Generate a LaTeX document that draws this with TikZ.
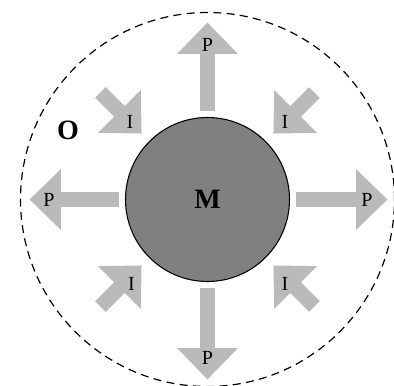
\documentclass[tikz,border=0pt]{standalone}
\usepackage{fontspec}
\setmainfont{Liberation Serif}
\usetikzlibrary{arrows.meta}

\begin{document}
\begin{tikzpicture}[x=0.75pt,y=0.75pt,
  flux/.style={draw=black!27, line width=11.25pt, -{Triangle[width=44pt,length=23.5pt]}},
  lbl/.style={font=\fontsize{15}{15}\selectfont, inner sep=0pt},
  big/.style={font=\fontsize{21}{21}\selectfont\bfseries, inner sep=0pt}]
\useasboundingbox (-207.5,-186.5) rectangle (186.5,199.5);
% outer dashed boundary
\draw[dash pattern=on 6pt off 4pt, line width=0.9pt] (0,0) circle (187);
\node[circle, draw=black, line width=0.8pt, fill=black!50, minimum size=123pt, inner sep=0pt, font=\fontsize{21}{21}\selectfont\bfseries] (M) at (0,0) {M};
\node[big] (O) at (-139.5,69.5) {O};
% free ends of the arrows
\coordinate (pN) at (0,177);
\coordinate (pE) at (180,0);
\coordinate (pW) at (-178,0);
\coordinate (pS) at (0,-180);
\coordinate (iNW) at (-107,107);
\coordinate (iNE) at (107,107);
\coordinate (iSW) at (-107,-107);
\coordinate (iSE) at (107,-107);
% outgoing
\draw[flux, shorten <=4.5pt] (M) -- (pN);
\draw[flux, shorten <=4.5pt] (M) -- (pE);
\draw[flux, shorten <=4.5pt] (M) -- (pW);
\draw[flux, shorten <=4.5pt] (M) -- (pS);
% incoming
\draw[flux, shorten >=8pt] (iNW) -- (M);
\draw[flux, shorten >=8pt] (iNE) -- (M);
\draw[flux, shorten >=8pt] (iSW) -- (M);
\draw[flux, shorten >=8pt] (iSE) -- (M);
% labels
\node[lbl] (lN) at (0,155) {P};
\node[lbl] (lE) at (159.5,0) {P};
\node[lbl] (lW) at (-158.5,0) {P};
\node[lbl] (lS) at (0,-158.5) {P};
\node[lbl] (lNW) at (-77.5,77.5) {I};
\node[lbl] (lNE) at (77.5,77.5) {I};
\node[lbl] (lSW) at (-76,-84) {I};
\node[lbl] (lSE) at (77.5,-84) {I};
\end{tikzpicture}
\end{document}
